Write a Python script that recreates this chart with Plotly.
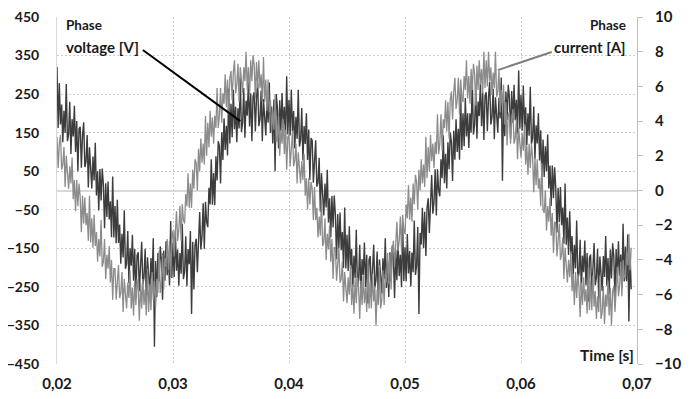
import numpy as np
import plotly.graph_objects as go

# ---- data ----
T_START = 0.02      # s, first reading
T_STEP = 0.0001     # s, spacing of the readings below

voltage_V = [
    320, 162, 279, 171, 223, 125, 207, 149, 276, 128,
    145, 230, 95, 185, 140, 220, 100, 180, 50, 160,
    165, 59, 143, 177, 61, 75, 144, 8, 112, 41,
    5, 88, 26, 124, -13, 50, -52, 56, -26, 57,
    15, -98, 19, -69, 23, -75, -28, -121, 36, -122,
    -40, -137, -24, -136, -88, -190, -112, -174, -51, -203,
    -190, -105, -240, -150, -195, -115, -234, -152, -280, -168,
    -160, -261, -172, -133, -244, -225, -151, -282, -173, -239,
    -265, -175, -230, -124, -405, -183, -277, -162, -236, -145,
    -180, -283, -156, -234, -132, -220, -163, -246, -79, -227,
    -135, -224, -104, -208, -153, -247, -162, -216, -86, -230,
    -210, -119, -248, -152, -191, -105, -320, -133, -257, -141,
    -125, -212, -109, -56, -153, -120, -33, -151, -29, -82,
    -95, 7, -36, 81, -37, 45, -38, 89, 26, 128,
    115, 18, 151, 79, 187, 105, 168, 91, 264, 122,
    225, 138, 261, 159, 217, 125, 213, 161, 294, 152,
    175, 266, 137, 233, 194, 280, 166, 252, 128, 244,
    255, 153, 241, 279, 167, 185, 259, 128, 237, 171,
    143, 232, 176, 280, 149, 218, 122, 236, 50, 250,
    215, 109, 234, 153, 253, 162, 217, 131, 296, 145,
    235, 143, 261, 153, 206, 109, 191, 134, 261, 114,
    130, 214, 78, 167, 121, 200, 79, 158, 27, 136,
    130, 20, 100, 130, 10, 20, 85, -55, 45, -30,
    -65, 18, -44, 54, -83, -20, -122, -14, -96, -13,
    -65, -178, -61, -149, -57, -155, -108, -201, -44, -202,
    -115, -209, -93, -202, -151, -250, -169, -228, -102, -250,
    -230, -141, -272, -178, -219, -135, -251, -167, -293, -179,
    -170, -270, -181, -141, -252, -232, -158, -288, -179, -244,
    -267, -176, -230, -124, -253, -182, -276, -160, -234, -143,
    -175, -279, -154, -233, -133, -222, -167, -251, -86, -235,
    -147, -235, -113, -215, -157, -249, -161, -212, -78, -219,
    -195, -95, -320, -110, -140, -45, -150, -55, -170, -45,
    -20, -110, -10, 40, -60, -30, 55, -65, 55, 0,
    -15, 81, 32, 143, 19, 95, 5, 125, 55, 150,
    125, 25, 155, 80, 185, 100, 160, 80, 250, 105,
    200, 115, 240, 140, 200, 110, 200, 150, 285, 145,
    170, 262, 134, 231, 193, 280, 167, 254, 131, 247,
    255, 154, 243, 282, 171, 190, 264, 133, 242, 176,
    150, 241, 187, 293, 25, 235, 141, 257, 183, 274,
    242, 135, 258, 176, 274, 182, 235, 148, 311, 160,
    248, 155, 272, 164, 216, 118, 200, 142, 269, 121,
    135, 218, 81, 169, 122, 200, 78, 156, 24, 132,
    35, 115, 50, 145, 5, 65, -40, 65, -20, 60,
    5, -109, 7, -82, 9, -90, -44, -138, 18, -141,
    -70, -167, -54, -166, -118, -220, -141, -202, -78, -228,
    -215, -128, -261, -169, -212, -130, -246, -162, -288, -174,
    -166, -266, -176, -136, -246, -226, -151, -281, -171, -236,
    -261, -170, -224, -118, -247, -175, -269, -153, -228, -137,
    -172, -277, -152, -232, -132, -221, -166, -251, -86, -236,
    -145, -235, -114, -340, -162, -256,
]

current_A = [
    3.1, 1.3, 2.7, 3.2, 1.2, 1.5, 2.5, 0.2, 2.0, 0.7,
    0.1, 1.4, 0.4, 1.9, -0.5, 0.6, -1.2, 0.6, -0.9, 0.4,
    -0.4, -2.4, -0.3, -1.9, -0.4, -2.0, -1.3, -2.9, -0.3, -3.0,
    -1.6, -3.3, -1.4, -3.2, -2.4, -4.1, -2.8, -3.8, -1.7, -4.4,
    -4.1, -2.8, -5.1, -3.7, -4.5, -3.2, -5.3, -4.0, -6.3, -4.5,
    -4.5, -6.3, -4.9, -4.3, -6.2, -5.9, -4.7, -7.0, -5.1, -6.3,
    -6.8, -5.3, -6.2, -4.6, -6.8, -5.6, -7.2, -5.2, -6.6, -5.1,
    -5.7, -7.5, -5.3, -6.8, -5.1, -6.6, -5.7, -7.2, -4.5, -7.0,
    -5.4, -6.9, -4.7, -6.3, -5.2, -6.7, -5.1, -5.9, -3.5, -5.9,
    -5.3, -3.6, -5.7, -3.9, -4.4, -2.8, -4.6, -2.9, -5.0, -2.8,
    -2.3, -3.8, -2.1, -1.2, -2.9, -2.3, -0.9, -2.9, -0.8, -1.7,
    -1.9, -0.2, -0.9, 1.0, -1.0, 0.4, -1.0, 1.2, 0.1, 1.8,
    1.6, 0.0, 2.4, 1.1, 3.0, 1.6, 2.7, 1.5, 4.3, 2.0,
    3.9, 2.5, 4.6, 3.1, 4.2, 2.7, 4.3, 3.6, 5.9, 3.6,
    4.3, 5.9, 3.9, 5.6, 5.0, 6.7, 4.8, 6.4, 4.4, 6.5,
    6.9, 5.2, 6.8, 7.5, 5.6, 6.1, 7.3, 5.1, 7.1, 6.0,
    5.6, 7.1, 6.3, 8.0, 5.8, 7.1, 5.5, 7.5, 6.3, 7.8,
    7.2, 5.3, 7.4, 5.9, 7.5, 5.9, 6.7, 5.1, 7.7, 5.1,
    6.4, 4.6, 6.4, 4.5, 5.2, 3.4, 4.6, 3.5, 5.5, 2.8,
    2.9, 4.3, 2.0, 3.5, 2.7, 4.1, 2.1, 3.5, 1.2, 3.1,
    3.2, 1.4, 2.8, 3.4, 1.4, 1.7, 2.7, 0.4, 2.2, 0.9,
    0.4, 1.7, 0.6, 2.1, -0.3, 0.7, -1.1, 0.7, -0.8, 0.5,
    0.1, -1.7, 0.2, -1.7, -1.0, -2.7, -1.5, -2.6, -0.5, -3.2,
    -3.0, -1.6, -4.0, -2.5, -3.4, -2.0, -4.1, -2.8, -5.1, -3.3,
    -3.3, -5.2, -3.8, -3.3, -5.3, -5.1, -4.1, -6.4, -4.7, -6.0,
    -6.5, -5.0, -6.0, -4.3, -6.6, -5.4, -7.1, -5.1, -6.5, -5.0,
    -5.6, -7.4, -5.2, -6.6, -4.9, -6.5, -5.6, -7.0, -4.3, -6.8,
    -5.2, -6.8, -4.8, -6.4, -5.5, -7.8, -5.7, -6.6, -4.3, -6.8,
    -6.3, -4.6, -6.6, -4.8, -5.3, -3.6, -5.4, -3.7, -5.7, -3.5,
    -2.9, -4.4, -2.7, -1.8, -3.5, -2.9, -1.5, -3.5, -1.4, -2.3,
    -2.5, -0.8, -1.6, 0.3, -1.7, -0.4, -1.8, 0.4, -0.8, 0.9,
    0.5, -1.1, 1.2, 0.0, 1.8, 0.4, 1.5, 0.2, 3.1, 0.7,
    2.5, 1.1, 3.2, 1.7, 2.7, 1.3, 2.8, 2.1, 4.4, 2.1,
    2.7, 4.4, 2.3, 4.1, 3.6, 5.2, 3.4, 5.1, 3.0, 5.2,
    5.7, 4.1, 5.7, 6.5, 4.7, 5.2, 6.5, 4.4, 6.4, 5.4,
    5.1, 6.6, 5.8, 7.5, 5.3, 6.6, 5.0, 7.0, 5.8, 7.3,
    6.7, 4.9, 7.2, 5.8, 7.5, 6.1, 7.0, 5.6, 8.0, 5.9,
    7.5, 6.0, 8.0, 6.3, 7.1, 5.5, 6.8, 5.9, 8.0, 5.4,
    5.7, 6.9, 4.5, 5.8, 4.9, 6.1, 3.8, 5.1, 2.6, 4.4,
    4.5, 2.7, 4.1, 4.7, 2.7, 3.0, 4.1, 1.8, 3.6, 2.4,
    1.9, 3.3, 2.3, 3.8, 1.5, 2.6, 0.9, 2.7, 1.3, 2.7,
    1.9, -0.1, 1.9, 0.3, 1.8, 0.1, 0.7, -0.9, 1.6, -1.1,
    -1.3, 0.0, -2.3, -0.9, -1.8, -0.4, -2.6, -1.3, -3.6, -1.8,
    -1.9, -3.8, -2.4, -1.9, -4.0, -3.7, -2.7, -5.1, -3.3, -4.6,
    -5.3, -4.0, -5.0, -3.5, -5.8, -4.8, -6.6, -4.7, -6.2, -4.8,
    -5.6, -7.3, -5.3, -6.6, -5.0, -6.4, -5.7, -7.1, -4.4, -6.9,
    -5.2, -6.9, -4.9, -6.7, -5.8, -7.4, -6.1, -7.0, -4.9, -7.4,
    -7.0, -5.5, -7.7, -6.0, -6.7, -5.2, -7.2, -5.6, -7.8, -5.8,
    -5.5, -7.0, -5.3, -4.4, -6.1, -5.5, -4.1, -6.1, -4.0, -4.9,
    -5.1, -3.5, -4.3, -2.5, -4.6, -3.3,
]

x_ticks = [0.02, 0.03, 0.04, 0.05, 0.06, 0.07]
y_left_ticks = [-450, -350, -250, -150, -50, 50, 150, 250, 350, 450]
y_right_ticks = [-10, -8, -6, -4, -2, 0, 2, 4, 6, 8, 10]

time_v = T_START + T_STEP * np.arange(len(voltage_V))
time_i = T_START + T_STEP * np.arange(len(current_A))

# ---- figure ----
FONT = "Lato"
GRID = "#cccccc"
DARK = "#3d3d3d"
LIGHT = "#8c8c8c"

fig = go.Figure()
fig.add_trace(go.Scatter(x=time_v, y=voltage_V, mode="lines", name="Phase voltage [V]",
                         line=dict(color=DARK, width=1.4), yaxis="y"))
fig.add_trace(go.Scatter(x=time_i, y=current_A, mode="lines", name="Phase current [A]",
                         line=dict(color=LIGHT, width=1.3), yaxis="y2"))

tickfont = dict(family=FONT, size=15, color="#1a1a1a", weight="bold")
lefttickfont = dict(family=FONT, size=14, color="#1a1a1a", weight="bold")

# the page body adds 8 px around the figure, so the figure is 683 x 391
fig.update_layout(
    width=683, height=391,
    margin=dict(l=49, r=54, t=9, b=35, autoexpand=False),
    paper_bgcolor="white", plot_bgcolor="white",
    showlegend=False,
    separators=",.",
    xaxis=dict(range=[0.02, 0.07], tickvals=x_ticks, tickformat=".2f",
               showgrid=True, gridcolor=GRID, griddash="2px,2px", gridwidth=1,
               zeroline=False, showline=False, ticks="", automargin=False,
               tickfont=tickfont, ticklabelstandoff=9, ticklabeloverflow="allow"),
    yaxis=dict(range=[-450, 450], tickvals=y_left_ticks,
               showgrid=True, gridcolor=GRID, griddash="2px,2px", gridwidth=1,
               zeroline=True, zerolinecolor="#d9d9d9", zerolinewidth=1.5,
               showline=True, linecolor="#d9d9d9", linewidth=1, ticks="", automargin=False,
               tickfont=lefttickfont, ticklabelstandoff=14, ticklabeloverflow="allow"),
    yaxis2=dict(range=[-10, 10], tickvals=y_right_ticks, overlaying="y", side="right",
                showgrid=False, zeroline=False,
                showline=True, linecolor="#bfbfbf", linewidth=1,
                ticks="outside", ticklen=5, tickcolor="#bfbfbf", automargin=False,
                tickfont=tickfont, ticklabelstandoff=9, ticklabeloverflow="allow"),
)

ann_font_small = dict(family=FONT, size=13.5, color="#1a1a1a", weight="bold")
ann_font = dict(family=FONT, size=15, color="#1a1a1a", weight="bold")

fig.add_annotation(text="Phase", xref="paper", yref="paper", x=0.012, y=0.977,
                   xanchor="left", yanchor="middle", showarrow=False, font=ann_font_small)
fig.add_annotation(text="voltage [V]", xref="paper", yref="paper", x=0.012, y=0.914,
                   xanchor="left", yanchor="middle", showarrow=False, font=ann_font)
fig.add_annotation(text="Phase", xref="paper", yref="paper", x=0.984, y=0.977,
                   xanchor="right", yanchor="middle", showarrow=False, font=ann_font_small)
fig.add_annotation(text="current [A]", xref="paper", yref="paper", x=0.984, y=0.914,
                   xanchor="right", yanchor="middle", showarrow=False, font=ann_font)
fig.add_annotation(text="Time [s]", xref="paper", yref="paper", x=0.998, y=0.026,
                   xanchor="right", yanchor="middle", showarrow=False,
                   font=dict(family=FONT, size=15.5, color="#1a1a1a", weight="bold"))

fig.add_shape(type="line", xref="paper", yref="paper", x0=0.148, y0=0.905, x1=0.316, y1=0.700,
              line=dict(color="black", width=2))
fig.add_shape(type="line", xref="paper", yref="paper", x0=0.853, y0=0.899, x1=0.760, y1=0.847,
              line=dict(color="#7f7f7f", width=2))

fig.write_html("out.html")
